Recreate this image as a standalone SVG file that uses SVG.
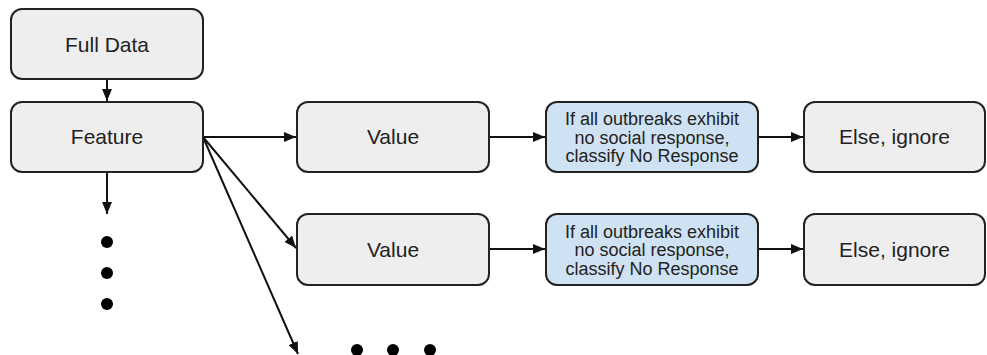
<svg xmlns="http://www.w3.org/2000/svg" width="987" height="355" viewBox="0 0 987 355">
  <defs>
    <marker id="arrow" viewBox="0 0 12 10" refX="12" refY="5" markerWidth="12" markerHeight="10" markerUnits="userSpaceOnUse" orient="auto">
      <path d="M0,0 L12,5 L0,10 z" fill="#111"/>
    </marker>
    <style>
      .box { fill: #eeeeee; stroke: #222; stroke-width: 2; }
      .rule { fill: #cfe2f3; stroke: #222; stroke-width: 2; }
      .lbl { font-family: "Liberation Sans", Arial, sans-serif; font-size: 21px; fill: #222; text-anchor: middle; }
      .small { font-family: "Liberation Sans", Arial, sans-serif; font-size: 18px; fill: #222; text-anchor: middle; }
      .conn { stroke: #111; stroke-width: 2; fill: none; marker-end: url(#arrow); }
      .dot { fill: #000; }
    </style>
  </defs>

  <!-- connectors -->
  <g id="connectors">
    <line class="conn" x1="107" y1="79" x2="107" y2="101"/>
    <line class="conn" x1="203" y1="137" x2="296" y2="137"/>
    <line class="conn" x1="203" y1="137" x2="296" y2="248"/>
    <line class="conn" x1="203" y1="137" x2="298" y2="354"/>
    <line class="conn" x1="107" y1="172" x2="107" y2="214"/>
    <line class="conn" x1="489" y1="137" x2="545" y2="137"/>
    <line class="conn" x1="758" y1="137" x2="803" y2="137"/>
    <line class="conn" x1="489" y1="249" x2="545" y2="249"/>
    <line class="conn" x1="758" y1="249" x2="803" y2="249"/>
  </g>

  <g id="full-data">
    <rect class="box" x="11" y="9" width="192" height="70" rx="11"/>
    <text class="lbl" x="107" y="51.5">Full Data</text>
  </g>

  <g id="feature">
    <rect class="box" x="11" y="102" width="192" height="70" rx="11"/>
    <text class="lbl" x="107" y="144">Feature</text>
  </g>

  <g id="value-1">
    <rect class="box" x="297" y="102" width="192" height="70" rx="11"/>
    <text class="lbl" x="393" y="144">Value</text>
  </g>

  <g id="rule-1">
    <rect class="rule" x="546" y="102" width="212" height="70" rx="11"/>
    <text class="small" x="652" y="125">If all outbreaks exhibit</text>
    <text class="small" x="652" y="143.5">no social response,</text>
    <text class="small" x="652" y="162">classify No Response</text>
  </g>

  <g id="else-1">
    <rect class="box" x="804" y="102" width="181" height="70" rx="11"/>
    <text class="lbl" x="894.5" y="144">Else, ignore</text>
  </g>

  <g id="value-2">
    <rect class="box" x="297" y="214" width="192" height="71" rx="11"/>
    <text class="lbl" x="393" y="256.5">Value</text>
  </g>

  <g id="rule-2">
    <rect class="rule" x="546" y="214" width="212" height="71" rx="11"/>
    <text class="small" x="652" y="237.5">If all outbreaks exhibit</text>
    <text class="small" x="652" y="256">no social response,</text>
    <text class="small" x="652" y="274.5">classify No Response</text>
  </g>

  <g id="else-2">
    <rect class="box" x="804" y="214" width="181" height="71" rx="11"/>
    <text class="lbl" x="894.5" y="256.5">Else, ignore</text>
  </g>

  <!-- ellipsis under the feature column -->
  <g id="more-features">
    <circle class="dot" cx="107" cy="242" r="6"/>
    <circle class="dot" cx="107" cy="273" r="6"/>
    <circle class="dot" cx="107" cy="304" r="6"/>
  </g>

  <!-- ellipsis for further values -->
  <g id="more-values">
    <circle class="dot" cx="357" cy="350" r="6"/>
    <circle class="dot" cx="393" cy="350" r="6"/>
    <circle class="dot" cx="430" cy="350" r="6"/>
  </g>
</svg>
